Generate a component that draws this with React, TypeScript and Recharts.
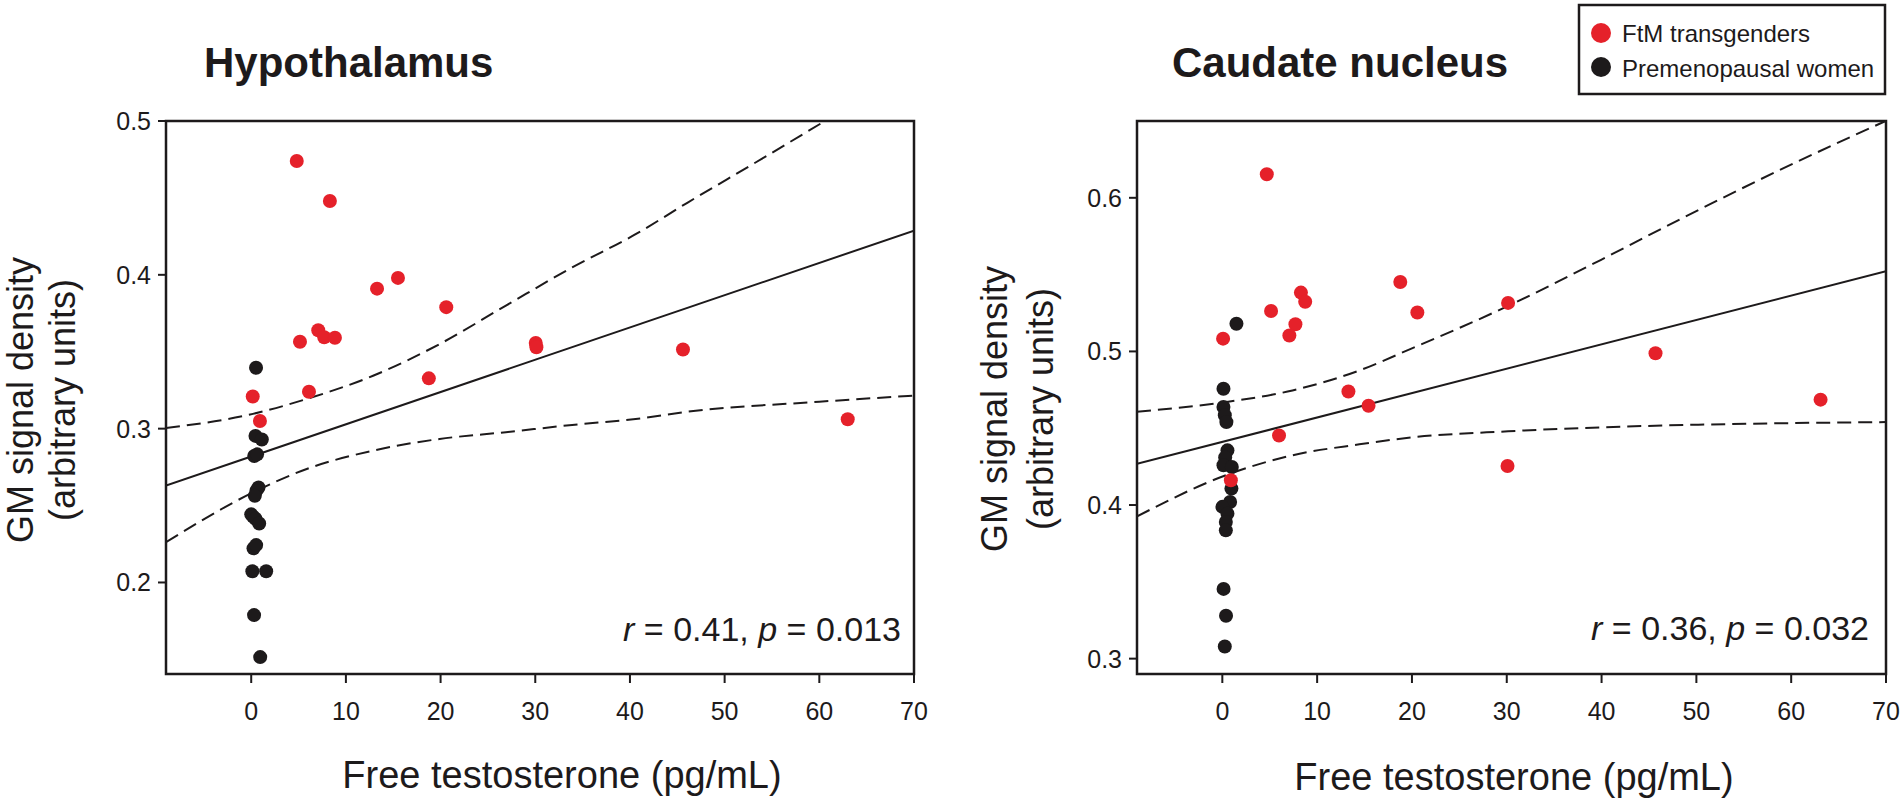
import { ComposedChart, Scatter, Line, XAxis, YAxis, ReferenceArea } from 'recharts'

// values: [free testosterone pg/mL, GM signal density]
const xTicks = [0, 10, 20, 30, 40, 50, 60, 70]
const xDomain: [number, number] = [-9, 70]

const hypoYTicks = [0.2, 0.3, 0.4, 0.5]
const hypoYDomain: [number, number] = [0.1405, 0.5]

const caudYTicks = [0.3, 0.4, 0.5, 0.6]
const caudYDomain: [number, number] = [0.29, 0.65]

const hypoFtm = [
  [4.81, 0.474], [8.31, 0.448], [13.29, 0.391], [15.5, 0.398], [20.6, 0.379],
  [7.08, 0.364], [7.71, 0.3594], [8.84, 0.3591], [5.15, 0.3565], [6.1, 0.324],
  [18.76, 0.3327], [30.05, 0.3557], [30.12, 0.3529], [45.6, 0.3515], [63.0, 0.3061],
  [0.16, 0.3209], [0.92, 0.305],
]
const hypoWomen = [
  [0.51, 0.3396], [0.45, 0.2953], [1.12, 0.2929], [0.32, 0.2822], [0.62, 0.2833],
  [0.77, 0.2617], [0.55, 0.2597], [0.38, 0.2563], [0.0, 0.2443], [0.2, 0.2428],
  [0.45, 0.2414], [0.84, 0.2383], [0.24, 0.2222], [0.52, 0.2243], [0.12, 0.2073],
  [1.58, 0.2073], [0.3, 0.1788], [0.95, 0.1515],
]
const hypoFit = [[-9, 0.263], [70, 0.4287]]
const hypoUpper = [
  [-9, 0.3004], [0.18, 0.3096], [5.86, 0.3193], [12.87, 0.3344], [19.9, 0.355],
  [26.9, 0.38], [33.9, 0.4048], [40.6, 0.4264], [46.1, 0.447], [53.4, 0.4735], [60.6, 0.5],
]
const hypoLower = [
  [-9, 0.2262], [0.24, 0.2587], [5.86, 0.2738], [12.87, 0.2857], [19.9, 0.2933],
  [26.9, 0.2977], [33.9, 0.3024], [40.6, 0.3063], [46.1, 0.311], [60, 0.3175], [70, 0.3215],
]

const caudFtm = [
  [4.69, 0.6153], [5.14, 0.5263], [8.29, 0.5383], [8.74, 0.5323], [7.71, 0.5177],
  [7.07, 0.5104], [18.77, 0.5452], [20.57, 0.5253], [30.14, 0.5316], [0.08, 0.5083],
  [13.3, 0.4739], [15.42, 0.4646], [5.98, 0.4453], [45.69, 0.4988], [63.1, 0.4686],
  [30.08, 0.4254], [0.9, 0.4161],
]
const caudWomen = [
  [1.49, 0.518], [0.12, 0.4757], [0.12, 0.4638], [0.26, 0.4584], [0.43, 0.454],
  [0.54, 0.4356], [0.3, 0.431], [0.12, 0.4259], [1.0, 0.4248], [0.96, 0.4107],
  [0.82, 0.402], [0.01, 0.3988], [0.54, 0.3944], [0.37, 0.389], [0.37, 0.3835],
  [0.13, 0.3454], [0.39, 0.3279], [0.26, 0.3079],
]
const caudFit = [[-9, 0.4268], [70, 0.5522]]
const caudUpper = [
  [-9, 0.4608], [0.37, 0.467], [7.4, 0.4746], [14.45, 0.4876], [20, 0.502],
  [30.14, 0.5296], [39.9, 0.5595], [48.3, 0.5861], [59.2, 0.6193], [70, 0.6501],
]
const caudLower = [
  [-9, 0.3926], [0.37, 0.4194], [7.4, 0.4324], [14.45, 0.4395], [20, 0.444],
  [30.14, 0.448], [40, 0.4506], [50.2, 0.4523], [70, 0.454],
]

const RED = '#e5212a'
const INK = '#1d1a1b'
const FONT = '"Liberation Sans", Arial, Helvetica, sans-serif'

const toPoints = (pairs: number[][]) => pairs.map(([x, y]) => ({ x, y }))

const dotShape = (fill: string) => (props: any) => (
  <circle cx={props.cx} cy={props.cy} r={7} fill={fill} />
)

interface PanelProps {
  left: number
  width: number
  marginLeft: number
  marginRight: number
  yDomain: [number, number]
  yTicks: number[]
  ftm: number[][]
  women: number[][]
  fit: number[][]
  upper: number[][]
  lower: number[][]
}

function Panel({ left, width, marginLeft, marginRight, yDomain, yTicks, ftm, women, fit, upper, lower }: PanelProps) {
  const tick = { fontFamily: FONT, fontSize: 25, fill: INK }
  return (
    <div style={{ position: 'absolute', left, top: 0 }}>
      <ComposedChart
        width={width}
        height={800}
        margin={{ top: 121, right: marginRight, bottom: 86, left: marginLeft }}
      >
        <XAxis
          type="number"
          dataKey="x"
          domain={xDomain}
          ticks={xTicks}
          allowDataOverflow
          axisLine={false}
          tickLine={{ stroke: INK, strokeWidth: 2 }}
          tickSize={9}
          tickMargin={19}
          height={40}
          tick={tick}
        />
        <YAxis
          type="number"
          dataKey="y"
          domain={yDomain}
          ticks={yTicks}
          allowDataOverflow
          axisLine={false}
          tickLine={{ stroke: INK, strokeWidth: 2 }}
          tickSize={8}
          tickMargin={7}
          width={60}
          tick={tick}
          tickFormatter={(v: number) => v.toFixed(1)}
        />
        <ReferenceArea
          x1={xDomain[0]}
          x2={xDomain[1]}
          y1={yDomain[0]}
          y2={yDomain[1]}
          fill="none"
          stroke={INK}
          strokeWidth={2.5}
          ifOverflow="visible"
        />
        <Line data={toPoints(upper)} dataKey="y" type="monotone" stroke={INK} strokeWidth={2} strokeDasharray="14 7" dot={false} isAnimationActive={false} />
        <Line data={toPoints(lower)} dataKey="y" type="monotone" stroke={INK} strokeWidth={2} strokeDasharray="14 7" dot={false} isAnimationActive={false} />
        <Line data={toPoints(fit)} dataKey="y" type="linear" stroke={INK} strokeWidth={2} dot={false} isAnimationActive={false} />
        <Scatter data={toPoints(women)} fill={INK} shape={dotShape(INK)} isAnimationActive={false} />
        <Scatter data={toPoints(ftm)} fill={RED} shape={dotShape(RED)} isAnimationActive={false} />
      </ComposedChart>
    </div>
  )
}

function Stat({ x, y, r, p }: { x: number; y: number; r: string; p: string }) {
  return (
    <text x={x} y={y} textAnchor="end" fontSize={34} fill={INK}>
      <tspan fontStyle="italic">r</tspan>
      <tspan>{` = ${r}, `}</tspan>
      <tspan fontStyle="italic">p</tspan>
      <tspan>{` = ${p}`}</tspan>
    </text>
  )
}

export default function App() {
  return (
    <div
      style={{
        position: 'absolute',
        left: 0,
        top: 0,
        width: 1904,
        height: 800,
        background: '#fff',
        overflow: 'hidden',
        fontFamily: FONT,
      }}
    >
      <Panel
        left={0}
        width={950}
        marginLeft={106}
        marginRight={36}
        yDomain={hypoYDomain}
        yTicks={hypoYTicks}
        ftm={hypoFtm}
        women={hypoWomen}
        fit={hypoFit}
        upper={hypoUpper}
        lower={hypoLower}
      />
      <Panel
        left={950}
        width={954}
        marginLeft={127}
        marginRight={18}
        yDomain={caudYDomain}
        yTicks={caudYTicks}
        ftm={caudFtm}
        women={caudWomen}
        fit={caudFit}
        upper={caudUpper}
        lower={caudLower}
      />

      <svg
        width={1904}
        height={800}
        style={{ position: 'absolute', left: 0, top: 0, pointerEvents: 'none' }}
        fontFamily={FONT}
      >
        <text x={204} y={77} fontSize={42} fontWeight="bold" fill={INK}>Hypothalamus</text>
        <text x={1172} y={77} fontSize={42} fontWeight="bold" fill={INK}>Caudate nucleus</text>

        <text transform="translate(33,400) rotate(-90)" textAnchor="middle" fontSize={36} fill={INK}>GM signal density</text>
        <text transform="translate(75,400) rotate(-90)" textAnchor="middle" fontSize={36} fill={INK}>(arbitrary units)</text>
        <text transform="translate(1007,409) rotate(-90)" textAnchor="middle" fontSize={36} fill={INK}>GM signal density</text>
        <text transform="translate(1053,409) rotate(-90)" textAnchor="middle" fontSize={36} fill={INK}>(arbitrary units)</text>

        <text x={562} y={788} textAnchor="middle" fontSize={38} fill={INK}>Free testosterone (pg/mL)</text>
        <text x={1514} y={790} textAnchor="middle" fontSize={38} fill={INK}>Free testosterone (pg/mL)</text>

        <Stat x={901} y={641} r="0.41" p="0.013" />
        <Stat x={1869} y={640} r="0.36" p="0.032" />

        <rect x={1579} y={5} width={306} height={89} fill="#fff" stroke={INK} strokeWidth={2.5} />
        <circle cx={1601} cy={33} r={10} fill={RED} />
        <circle cx={1601} cy={67} r={10} fill={INK} />
        <text x={1622} y={42} fontSize={24} fill={INK}>FtM transgenders</text>
        <text x={1622} y={77} fontSize={24} fill={INK}>Premenopausal women</text>
      </svg>
    </div>
  )
}
